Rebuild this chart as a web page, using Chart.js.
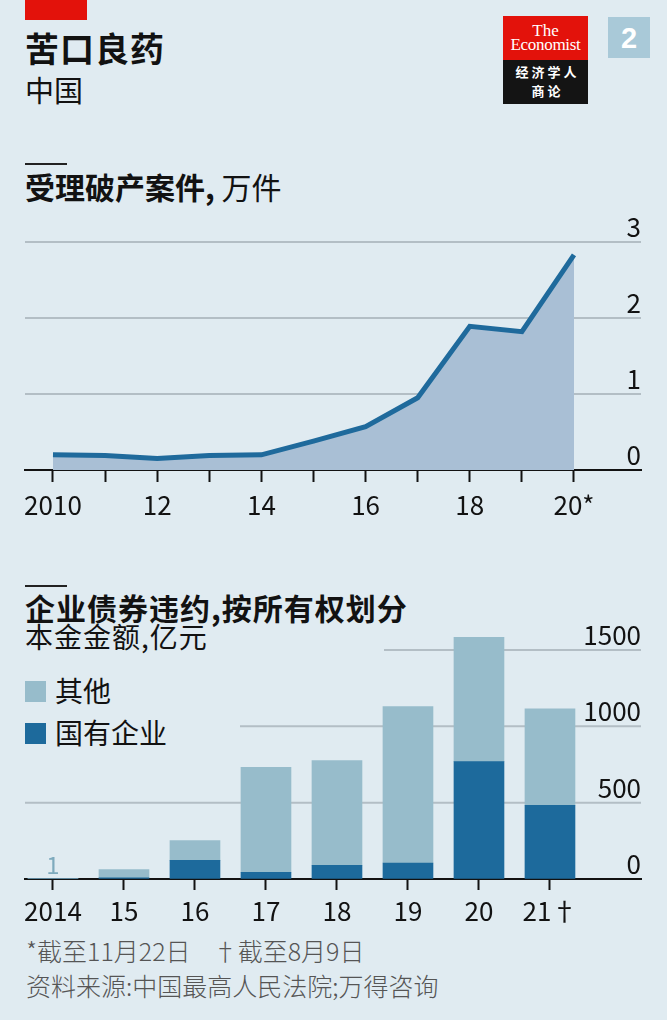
<!DOCTYPE html>
<html>
<head>
<meta charset="utf-8">
<script src="https://cdn.jsdelivr.net/npm/chart.js@4.4.1/dist/chart.umd.min.js"></script>
<style>
  body { margin: 0; background: #fff; }
  #page { position: relative; width: 667px; height: 1020px; background: #e0ebf1; overflow: hidden;
          font-family: "Noto Sans CJK SC", sans-serif; color: #121212; }
  .t { position: absolute; white-space: nowrap; line-height: 1; }
  .rule { position: absolute; left: 25px; width: 42px; height: 2px; background: #222; }
  .sq { position: absolute; left: 25px; width: 21px; height: 21px; }
  canvas { position: absolute; left: 0; }
</style>
</head>
<body>
<div id="page">
  <div style="position:absolute;left:25px;top:0;width:62px;height:20px;background:#e3120b"></div>
  <div class="t" style="left:25px;top:31px;font-size:34px;font-weight:700;letter-spacing:1px">苦口良药</div>
  <div class="t" style="left:25px;top:75px;font-size:29px">中国</div>

  <!-- logo -->
  <div style="position:absolute;left:503px;top:16px;width:85px;height:44px;background:#e3120b"></div>
  <div class="t" style="left:503px;top:21px;width:85px;text-align:center;font:17px 'Liberation Serif',serif;color:#fff">The</div>
  <div class="t" style="left:503px;top:35px;width:85px;text-align:center;font:17px 'Liberation Serif',serif;color:#fff;letter-spacing:-0.3px">Economist</div>
  <div style="position:absolute;left:503px;top:60px;width:85px;height:44px;background:#141414"></div>
  <div class="t" style="left:505px;top:65px;width:85px;text-align:center;font-size:13px;font-weight:700;letter-spacing:3px;color:#fff">经济学人</div>
  <div class="t" style="left:505px;top:84px;width:85px;text-align:center;font-size:13px;font-weight:700;letter-spacing:3px;color:#fff">商论</div>
  <div style="position:absolute;left:608px;top:17px;width:42px;height:41px;background:#a9c9d8"></div>
  <div class="t" style="left:608px;top:22px;width:42px;text-align:center;font:700 29px 'Liberation Sans',sans-serif;color:#fff">2</div>

  <div class="rule" style="top:163px"></div>
  <div class="t" style="left:25px;top:171px;font-size:30px"><b>受理破产案件,</b> 万件</div>

  <div class="rule" style="top:585px"></div>
  <div class="t" style="left:25px;top:592px;font-size:30px;font-weight:700;letter-spacing:1px">企业债券违约,按所有权划分</div>
  <div class="t" style="left:25px;top:622px;font-size:28px;letter-spacing:1px">本金金额,亿元</div>

  <div class="sq" style="top:681px;background:#97bccb"></div>
  <div class="t" style="left:55px;top:676px;font-size:28px">其他</div>
  <div class="sq" style="top:723px;background:#1d6a9c"></div>
  <div class="t" style="left:55px;top:718px;font-size:28px">国有企业</div>

  <div class="t" style="left:26px;top:938px;font-size:25px;font-weight:300;color:#555">*截至11月22日&nbsp;&nbsp;&nbsp;&nbsp;†截至8月9日</div>
  <div class="t" style="left:26px;top:973px;font-size:25px;font-weight:300;color:#555">资料来源:中国最高人民法院;万得咨询</div>

  <canvas id="c1" width="667" height="320" style="top:205px"></canvas>
  <canvas id="c2" width="667" height="330" style="top:600px"></canvas>
</div>

<script>
// 受理破产案件, 万件
const years1 = [2010, 2011, 2012, 2013, 2014, 2015, 2016, 2017, 2018, 2019, 2020];
const cases = [0.20, 0.19, 0.15, 0.19, 0.20, 0.38, 0.57, 0.95, 1.89, 1.82, 2.83];
const xLabels1 = ['2010', '', '12', '', '14', '', '16', '', '18', '', '20*'];
const yTicks1 = [0, 1, 2, 3];

// 企业债券违约, 本金金额 亿元
const years2 = [2014, 2015, 2016, 2017, 2018, 2019, 2020, 2021];
const soe = [0, 8, 122, 44, 90, 105, 769, 483];
const other = [1, 53, 129, 687, 685, 1024, 814, 631];
const xLabels2 = ['2014', '15', '16', '17', '18', '19', '20', '21†'];
const yTicks2 = [0, 500, 1000, 1500];

const FONT = '"Noto Sans CJK SC", sans-serif';
const INK = '#121212';
const GRID = '#b3bec5';

// gridlines that start at different x positions (leaving room for titles/legend)
const partialGrid = {
  id: 'partialGrid',
  beforeDatasetsDraw(chart, args, opts) {
    const y = chart.scales.y, ctx = chart.ctx, right = chart.chartArea.right;
    ctx.save();
    ctx.strokeStyle = opts.color;
    ctx.lineWidth = opts.width;
    y.ticks.forEach(t => {
      const from = opts.from[t.value];
      if (from === undefined) return;
      const py = y.getPixelForValue(t.value);
      ctx.beginPath(); ctx.moveTo(from, py); ctx.lineTo(right, py); ctx.stroke();
    });
    ctx.restore();
  }
};

// small value label for bars too short to see
const tinyLabel = {
  id: 'tinyLabel',
  afterDatasetsDraw(chart, args, opts) {
    const ds = chart.data.datasets[opts.dataset];
    const x = chart.scales.x, y = chart.scales.y, ctx = chart.ctx;
    ctx.save();
    ctx.fillStyle = opts.color;
    ctx.font = opts.font;
    ctx.textAlign = 'center';
    ctx.textBaseline = 'bottom';
    ds.data.forEach(p => {
      if (p.y >= 10) return;
      ctx.fillText(String(p.y), x.getPixelForValue(p.x), y.getPixelForValue(0) - 2);
    });
    ctx.restore();
  }
};

new Chart(document.getElementById('c1'), {
  type: 'line',
  data: {
    datasets: [{
      data: years1.map((yr, i) => ({ x: yr, y: cases[i] })),
      borderColor: '#1f6a9c',
      borderWidth: 5,
      backgroundColor: '#a9bfd5',
      fill: 'origin',
      pointRadius: 0,
      tension: 0
    }]
  },
  options: {
    responsive: false,
    animation: false,
    layout: { padding: { top: 37, left: 25, right: 26, bottom: 0 } },
    plugins: { legend: { display: false }, tooltip: { enabled: false } },
    scales: {
      x: {
        type: 'linear', min: 2009.463, max: 2021.286,
        afterBuildTicks: s => { s.ticks = years1.map(v => ({ value: v })); },
        afterFit: s => { s.height = 55; },
        ticks: { callback: (v, i) => xLabels1[i], autoSkip: false, maxRotation: 0,
                 color: INK, font: { family: FONT, size: 26 }, padding: 8 },
        grid: { drawOnChartArea: false, drawTicks: true, tickLength: 12, tickColor: INK, tickWidth: 2 },
        border: { display: true, color: INK, width: 2 }
      },
      y: {
        position: 'right', min: 0, max: 3,
        afterBuildTicks: s => { s.ticks = yTicks1.map(v => ({ value: v })); },
        afterFit: s => { s.width = 0; },
        ticks: { mirror: true, padding: 0, labelOffset: -15, color: INK, font: { family: FONT, size: 26 },
                 callback: v => String(v) },
        grid: { drawTicks: false, lineWidth: 2, color: c => c.tick.value === 0 ? 'rgba(0,0,0,0)' : GRID },
        border: { display: false }
      }
    }
  }
});

new Chart(document.getElementById('c2'), {
  type: 'bar',
  data: {
    datasets: [
      { label: '国有企业', data: years2.map((yr, i) => ({ x: yr, y: soe[i] })),
        backgroundColor: '#1d6a9c', stack: 's', barThickness: 50 },
      { label: '其他', data: years2.map((yr, i) => ({ x: yr, y: other[i] })),
        backgroundColor: '#97bccb', stack: 's', barThickness: 50 }
    ]
  },
  plugins: [partialGrid, tinyLabel],
  options: {
    responsive: false,
    animation: false,
    layout: { padding: { top: 27, left: 25, right: 26, bottom: 0 } },
    plugins: {
      legend: { display: false }, tooltip: { enabled: false },
      partialGrid: { color: GRID, width: 2, from: { 500: 25, 1000: 240, 1500: 384 } },
      tinyLabel: { dataset: 1, color: '#7eaabd', font: '24px ' + FONT }
    },
    scales: {
      x: {
        type: 'linear', min: 2013.606, max: 2022.282, offset: false,
        afterBuildTicks: s => { s.ticks = years2.map(v => ({ value: v })); },
        afterFit: s => { s.height = 51; },
        ticks: { callback: (v, i) => xLabels2[i], autoSkip: false, maxRotation: 0,
                 color: INK, font: { family: FONT, size: 26 }, padding: 6 },
        grid: { offset: false, drawOnChartArea: false, drawTicks: true, tickLength: 11, tickColor: INK, tickWidth: 2 },
        border: { display: true, color: INK, width: 2 }
      },
      y: {
        position: 'right', min: 0, max: 1650, stacked: true,
        afterBuildTicks: s => { s.ticks = yTicks2.map(v => ({ value: v })); },
        afterFit: s => { s.width = 0; },
        ticks: { mirror: true, padding: 0, labelOffset: -15, color: INK, font: { family: FONT, size: 26 },
                 callback: v => String(v) },
        grid: { drawOnChartArea: false, drawTicks: false },
        border: { display: false }
      }
    }
  }
});
</script>
</body>
</html>
